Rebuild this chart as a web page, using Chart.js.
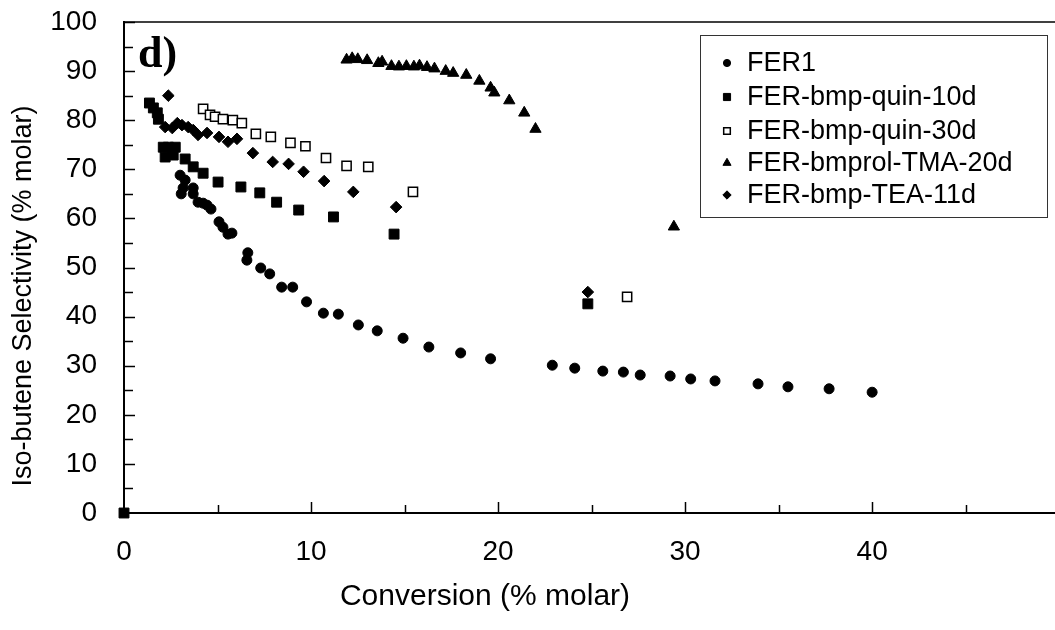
<!DOCTYPE html>
<html>
<head>
<meta charset="utf-8">
<script src="https://cdn.jsdelivr.net/npm/chart.js@4"></script>
<style>
  html, body { margin: 0; padding: 0; background: #fff; overflow: hidden; }
  canvas { display: block; }
</style>
</head>
<body>
<canvas id="myChart" width="1055" height="630"></canvas>
<script>
// series names as in the legend
const seriesNames = ['FER1', 'FER-bmp-quin-10d', 'FER-bmp-quin-30d', 'FER-bmprol-TMA-20d', 'FER-bmp-TEA-11d'];

// [conversion, selectivity] pairs
const fer1 = [
  [3.0, 68.8], [3.27, 67.8], [3.16, 66.2], [3.06, 65.0], [3.7, 66.2], [3.7, 65.0],
  [3.96, 63.3], [4.23, 63.1], [4.44, 62.7], [4.65, 61.9], [5.08, 59.3], [5.29, 58.2],
  [5.56, 56.8], [5.77, 57.0], [6.62, 53.0], [6.57, 51.5], [7.31, 49.9], [7.79, 48.7],
  [8.43, 46.0], [9.02, 46.0], [9.76, 43.0], [10.66, 40.7], [11.46, 40.5], [12.53, 38.3],
  [13.54, 37.1], [14.92, 35.6], [16.3, 33.8], [18.0, 32.6], [19.6, 31.4], [22.9, 30.1],
  [24.1, 29.5], [25.6, 28.9], [26.7, 28.7], [27.6, 28.1], [29.2, 27.9], [30.3, 27.3],
  [31.6, 26.9], [33.9, 26.3], [35.5, 25.7], [37.7, 25.3], [40.0, 24.6]
];
const quin10 = [
  [0, 0], [1.36, 83.5], [1.57, 82.5], [1.78, 81.5], [1.84, 80.2], [2.1, 74.5], [2.37, 74.5],
  [2.74, 74.5], [2.2, 72.5], [2.63, 72.9], [3.27, 72.1], [3.7, 70.5], [4.23, 69.2],
  [5.03, 67.4], [6.25, 66.4], [7.26, 65.2], [8.16, 63.3], [9.34, 61.7], [11.2, 60.3],
  [14.44, 56.8], [24.8, 42.6]
];
const quin30 = [
  [4.23, 82.3], [4.6, 81.1], [4.87, 80.7], [5.29, 80.2], [5.82, 80.0], [6.3, 79.4],
  [7.05, 77.2], [7.85, 76.6], [8.9, 75.4], [9.7, 74.7], [10.8, 72.3], [11.9, 70.7],
  [13.06, 70.5], [15.45, 65.4], [26.9, 44.0]
];
const tma20 = [
  [11.9, 92.3], [12.2, 92.6], [12.5, 92.4], [13.0, 92.2], [13.6, 91.6], [13.8, 91.9],
  [14.3, 91.0], [14.7, 90.9], [15.1, 91.0], [15.5, 90.9], [15.8, 91.1], [16.2, 90.8],
  [16.6, 90.5], [17.2, 90.0], [17.6, 89.6], [18.3, 89.2], [19.0, 88.0], [19.6, 86.6],
  [19.8, 85.6], [20.6, 84.0], [21.4, 81.5], [22.0, 78.2], [29.4, 58.3]
];
const tea11 = [
  [2.37, 85.0], [2.2, 78.6], [2.58, 78.4], [2.85, 79.4], [3.1, 79.0], [3.43, 78.6],
  [3.7, 78.0], [3.96, 77.0], [4.44, 77.4], [5.08, 76.6], [5.56, 75.6], [6.04, 76.2],
  [6.89, 73.3], [7.95, 71.5], [8.8, 71.1], [9.6, 69.5], [10.7, 67.6], [12.26, 65.4],
  [14.55, 62.3], [24.8, 45.0]
];

const xTitle = 'Conversion (% molar)';
const yTitle = 'Iso-butene Selectivity (% molar)';
const panelTag = 'd)';

const FONT = '"Liberation Sans", Arial, sans-serif';
const toPts = arr => arr.map(p => ({ x: p[0], y: p[1] }));

const styles = [
  { pointStyle: 'circle', radius: 5, bg: '#000', lw: 1 },
  { pointStyle: 'rect', radius: 7, bg: '#000', lw: 1 },
  { pointStyle: 'rect', radius: 6.5, bg: '#fff', lw: 1.5 },
  { pointStyle: 'triangle', radius: 6.5, bg: '#000', lw: 1 },
  { pointStyle: 'rectRot', radius: 5.8, bg: '#000', lw: 1 }
];
const allData = [fer1, quin10, quin30, tma20, tea11];

// ticks pointing into the plot, frame line on top, legend box, titles
const decor = {
  id: 'decor',
  afterDraw(chart) {
    const { ctx, chartArea: a, scales: { x, y } } = chart;
    ctx.save();
    ctx.strokeStyle = '#000';
    ctx.lineWidth = 1.5;
    ctx.beginPath();
    ctx.moveTo(a.left, a.top);
    ctx.lineTo(chart.width, a.top);
    ctx.stroke();
    // x axis runs on to the canvas edge
    ctx.lineWidth = 2;
    ctx.beginPath();
    ctx.moveTo(a.right - 1, a.bottom);
    ctx.lineTo(chart.width, a.bottom);
    ctx.stroke();

    ctx.lineWidth = 1.5;
    for (let v = 5; v <= 100; v += 5) {
      const py = Math.round(y.getPixelForValue(v)) + 0.5;
      const len = v % 10 ? 9 : 11;
      ctx.beginPath();
      ctx.moveTo(a.left, py);
      ctx.lineTo(a.left + len, py);
      ctx.stroke();
    }
    for (let v = 5; v < x.max; v += 5) {
      const px = Math.round(x.getPixelForValue(v)) + 0.5;
      const len = v % 10 ? 8 : 11;
      ctx.beginPath();
      ctx.moveTo(px, a.bottom);
      ctx.lineTo(px, a.bottom - len);
      ctx.stroke();
    }

    // panel letter
    ctx.fillStyle = '#000';
    ctx.font = 'bold 44px "Liberation Serif", "Times New Roman", serif';
    ctx.textAlign = 'left';
    ctx.textBaseline = 'alphabetic';
    ctx.fillText(panelTag, 138, 67);

    // axis titles
    ctx.textAlign = 'center';
    ctx.textBaseline = 'middle';
    ctx.font = '30px ' + FONT;
    ctx.fillText(xTitle, 485, 597);
    ctx.save();
    ctx.font = '27px ' + FONT;
    ctx.translate(24, 296);
    ctx.rotate(-Math.PI / 2);
    ctx.fillText(yTitle, 0, 0);
    ctx.restore();

    // legend
    ctx.lineWidth = 1;
    ctx.strokeStyle = '#333';
    ctx.strokeRect(700.5, 35.5, 347, 182);
    ctx.font = '27px ' + FONT;
    ctx.textAlign = 'left';
    const rowY = [63, 97, 131, 163, 195];
    chart.data.datasets.forEach((ds, i) => {
      const st = styles[i];
      ctx.fillStyle = st.bg;
      ctx.strokeStyle = '#000';
      ctx.lineWidth = st.lw;
      Chart.helpers.drawPoint(ctx, {
        pointStyle: st.pointStyle, radius: st.radius * 0.72, rotation: 0, borderWidth: st.lw
      }, 727, rowY[i]);
      ctx.fillStyle = '#000';
      ctx.fillText(ds.label, 747, rowY[i] + 1);
    });
    ctx.restore();
  }
};

const noPad = s => { s.paddingTop = 0; s.paddingBottom = 0; s.paddingLeft = 0; s.paddingRight = 0; };

new Chart(document.getElementById('myChart').getContext('2d'), {
  type: 'scatter',
  data: {
    datasets: allData.map((d, i) => ({
      label: seriesNames[i],
      data: toPts(d),
      pointStyle: styles[i].pointStyle,
      pointRadius: styles[i].radius,
      pointHoverRadius: styles[i].radius,
      backgroundColor: styles[i].bg,
      borderColor: '#000',
      borderWidth: styles[i].lw,
      showLine: false,
      clip: false
    }))
  },
  options: {
    responsive: false,
    animation: false,
    devicePixelRatio: 1,
    layout: { padding: { left: 0, top: 22, right: 0, bottom: 0 } },
    plugins: { legend: { display: false }, tooltip: { enabled: false } },
    scales: {
      x: {
        type: 'linear', min: 0, max: 49.35, bounds: 'data',
        grid: { display: false, drawTicks: false },
        border: { display: true, color: '#000', width: 2 },
        ticks: { stepSize: 10, includeBounds: false, padding: 22, color: '#000', font: { family: FONT, size: 28 } },
        afterFit: s => { s.height = 117; noPad(s); }
      },
      y: {
        type: 'linear', min: 0, max: 100,
        grid: { display: false, drawTicks: false },
        border: { display: true, color: '#000', width: 2 },
        ticks: { stepSize: 10, padding: 27, color: '#000', font: { family: FONT, size: 28 } },
        afterFit: s => { s.width = 124; noPad(s); }
      }
    }
  },
  plugins: [decor]
});
</script>
</body>
</html>
